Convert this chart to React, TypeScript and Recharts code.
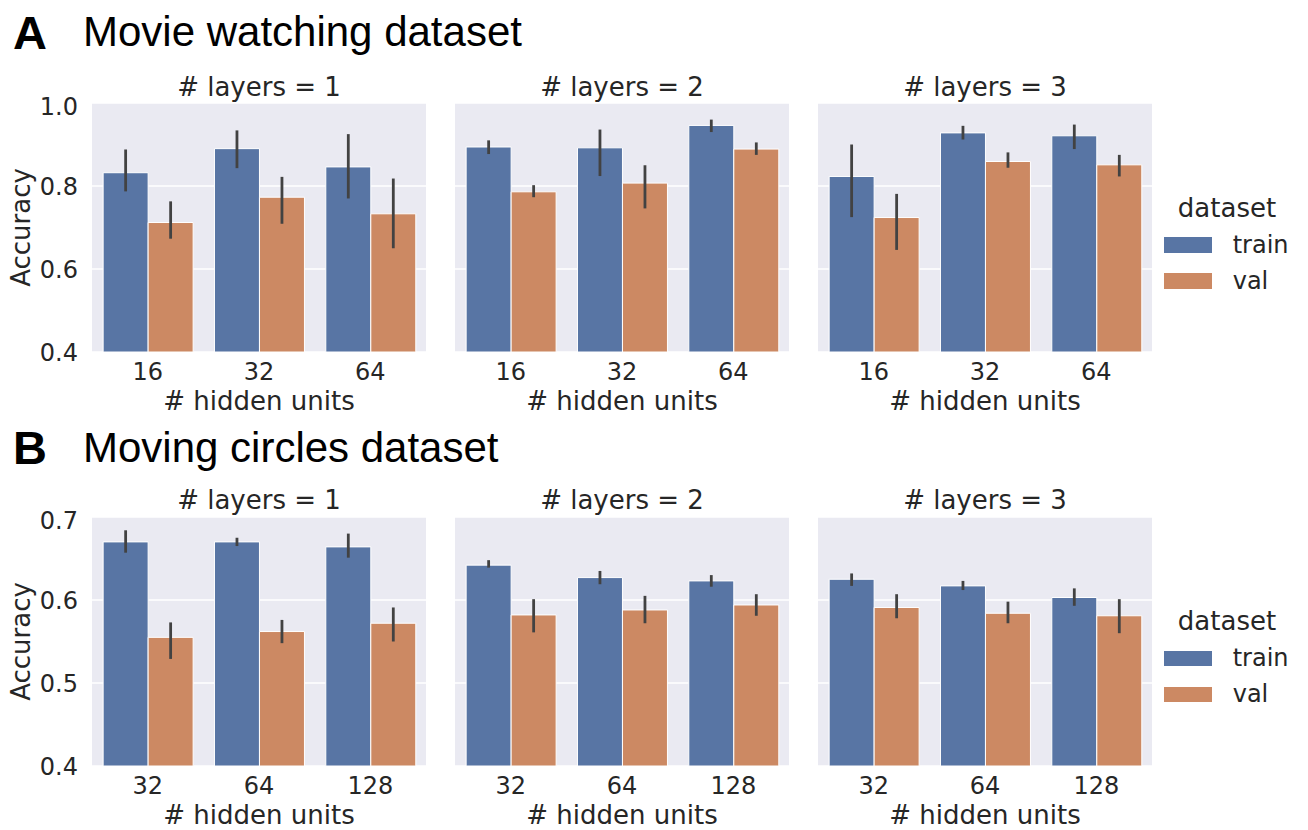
import React from "react";
import { Bar, BarChart, CartesianGrid, ErrorBar, Legend, XAxis, YAxis } from "recharts";

const movieUnits = ["16", "32", "64"];
const circleUnits = ["32", "64", "128"];
const layerTitles = ["# layers = 1", "# layers = 2", "# layers = 3"];

// one row per panel (# layers = 1, 2, 3), one entry per hidden-unit size
const movieTrain = [[0.832, 0.89, 0.846], [0.894, 0.892, 0.946], [0.823, 0.928, 0.921]];
const movieTrainLo = [[0.787, 0.843, 0.77], [0.877, 0.824, 0.93], [0.725, 0.912, 0.889]];
const movieTrainHi = [[0.888, 0.934, 0.925], [0.91, 0.936, 0.96], [0.9, 0.945, 0.948]];
const movieVal = [[0.712, 0.773, 0.733], [0.786, 0.807, 0.889], [0.724, 0.859, 0.851]];
const movieValLo = [[0.673, 0.709, 0.65], [0.773, 0.746, 0.875], [0.646, 0.844, 0.823]];
const movieValHi = [[0.763, 0.822, 0.818], [0.802, 0.85, 0.905], [0.781, 0.881, 0.875]];

const circleTrain = [[0.67, 0.67, 0.664], [0.642, 0.627, 0.623], [0.625, 0.617, 0.603]];
const circleTrainLo = [[0.657, 0.665, 0.651], [0.639, 0.619, 0.616], [0.617, 0.612, 0.593]];
const circleTrainHi = [[0.684, 0.675, 0.68], [0.648, 0.635, 0.63], [0.632, 0.623, 0.614]];
const circleVal = [[0.555, 0.562, 0.572], [0.582, 0.588, 0.594], [0.591, 0.584, 0.581]];
const circleValLo = [[0.529, 0.548, 0.55], [0.561, 0.572, 0.581], [0.578, 0.572, 0.56]];
const circleValHi = [[0.573, 0.576, 0.591], [0.601, 0.605, 0.607], [0.607, 0.598, 0.601]];

const movieTicks = [0.4, 0.6, 0.8, 1.0];
const circleTicks = [0.4, 0.5, 0.6, 0.7];

const TRAIN = "#5875a4";
const VAL = "#cc8963";
const INK = "#262626";
const FONT = "DejaVu Sans";

const PLOT_W = 334;
const PLOT_H = 249;
const TOP = 10;
const AXIS_H = 64;
const plotLefts = [92, 455, 818];

function AccuracyLabel({ viewBox }: any) {
  const cy = viewBox.y + viewBox.height / 2;
  return (
    <text x={30} y={cy} transform={`rotate(-90, 30, ${cy})`} textAnchor="middle" fontSize={26} fill={INK} fontFamily={FONT}>
      Accuracy
    </text>
  );
}

function UnitsLabel({ viewBox }: any) {
  return (
    <text x={viewBox.x + viewBox.width / 2} y={viewBox.y + 58} textAnchor="middle" fontSize={26} fill={INK} fontFamily={FONT}>
      # hidden units
    </text>
  );
}

const renderLegend = ({ payload }: any) => (
  <div style={{ position: "relative", width: 126, height: 100, fontFamily: FONT, color: INK }}>
    <div style={{ position: "absolute", left: 0, top: 0, width: 126, textAlign: "center", fontSize: 26, lineHeight: "26px" }}>
      dataset
    </div>
    {(payload || []).map((p: any, i: number) => (
      <React.Fragment key={p.value}>
        <div style={{ position: "absolute", left: 0, top: 42.6 + i * 36, width: 48, height: 15.5, background: p.color }} />
        <div style={{ position: "absolute", left: 68.7, top: 38.3 + i * 36, fontSize: 24, lineHeight: "24px", whiteSpace: "nowrap" }}>
          {p.value}
        </div>
      </React.Fragment>
    ))}
  </div>
);

interface PanelProps {
  col: number;
  plotTop: number;
  units: string[];
  train: number[];
  trainLo: number[];
  trainHi: number[];
  val: number[];
  valLo: number[];
  valHi: number[];
  ticks: number[];
}

function Panel({ col, plotTop, units, train, trainLo, trainHi, val, valLo, valHi, ticks }: PanelProps) {
  const data = units.map((u, i) => ({
    units: u,
    train: train[i],
    val: val[i],
    trainErr: [train[i] - trainLo[i], trainHi[i] - train[i]],
    valErr: [val[i] - valLo[i], valHi[i] - val[i]],
  }));
  const yW = col === 0 ? 92 : 0;
  const marginLeft = col === 0 ? 0 : 10;
  const left = plotLefts[col] - yW - marginLeft;
  const width = col === 2 ? 1308 - left : marginLeft + yW + PLOT_W + 10;
  const top = plotTop - TOP;

  return (
    <>
      <div
        style={{
          position: "absolute",
          left: plotLefts[col],
          width: PLOT_W,
          top: plotTop - 7.5 - 22,
          textAlign: "center",
          fontSize: 26,
          lineHeight: "26px",
          fontFamily: FONT,
          color: INK,
        }}
      >
        {layerTitles[col]}
      </div>
      <div style={{ position: "absolute", left, top }}>
        <BarChart
          width={width}
          height={TOP + PLOT_H + AXIS_H}
          data={data}
          margin={{ top: TOP, right: width - marginLeft - yW - PLOT_W, bottom: 0, left: marginLeft }}
          barCategoryGap="10%"
          barGap={0}
        >
          <CartesianGrid vertical={false} stroke="#ffffff" strokeWidth={1.5} fill="#eaeaf2" />
          <XAxis
            dataKey="units"
            interval={0}
            axisLine={false}
            tickLine={false}
            tickSize={0}
            tickMargin={11}
            height={AXIS_H}
            tick={{ fontSize: 24, fill: INK, fontFamily: FONT }}
            label={<UnitsLabel />}
          />
          <YAxis
            hide={col !== 0}
            width={yW}
            domain={[ticks[0], ticks[ticks.length - 1]]}
            ticks={ticks}
            allowDataOverflow
            axisLine={false}
            tickLine={false}
            tickSize={0}
            tickMargin={14}
            tickFormatter={(v: number) => v.toFixed(1)}
            tick={{ fontSize: 24, fill: INK, fontFamily: FONT }}
            label={col === 0 ? <AccuracyLabel /> : undefined}
          />
          <Bar dataKey="train" name="train" fill={TRAIN} stroke="#ffffff" strokeWidth={1} isAnimationActive={false}>
            <ErrorBar dataKey="trainErr" width={0} stroke="#424242" strokeWidth={2.8} />
          </Bar>
          <Bar dataKey="val" name="val" fill={VAL} stroke="#ffffff" strokeWidth={1} isAnimationActive={false}>
            <ErrorBar dataKey="valErr" width={0} stroke="#424242" strokeWidth={2.8} />
          </Bar>
          {col === 2 && (
            <Legend
              layout="vertical"
              align="center"
              verticalAlign="middle"
              content={renderLegend}
              wrapperStyle={{ position: "absolute", left: 1164 - left, top: 101.4, width: 126, height: 100 }}
            />
          )}
        </BarChart>
      </div>
    </>
  );
}

const heading = (text: string, l: number, t: number, size: number, bold: boolean) => (
  <div
    style={{
      position: "absolute",
      left: l,
      top: t,
      fontFamily: "Liberation Sans",
      fontWeight: bold ? 700 : 400,
      fontSize: size,
      lineHeight: `${size}px`,
      color: "#000",
      whiteSpace: "nowrap",
    }}
  >
    {text}
  </div>
);

export default function App() {
  return (
    <div style={{ position: "absolute", left: 0, top: 0, width: 1308, height: 830, background: "#fff", overflow: "hidden" }}>
      {heading("A", 13, 9.2, 47, true)}
      {heading("Movie watching dataset", 83, 11.4, 42, false)}
      {heading("B", 13, 424.2, 47, true)}
      {heading("Moving circles dataset", 83, 427.4, 42, false)}
      {[0, 1, 2].map((c) => (
        <Panel
          key={`m${c}`}
          col={c}
          plotTop={103.3}
          units={movieUnits}
          train={movieTrain[c]}
          trainLo={movieTrainLo[c]}
          trainHi={movieTrainHi[c]}
          val={movieVal[c]}
          valLo={movieValLo[c]}
          valHi={movieValHi[c]}
          ticks={movieTicks}
        />
      ))}
      {[0, 1, 2].map((c) => (
        <Panel
          key={`c${c}`}
          col={c}
          plotTop={516.7}
          units={circleUnits}
          train={circleTrain[c]}
          trainLo={circleTrainLo[c]}
          trainHi={circleTrainHi[c]}
          val={circleVal[c]}
          valLo={circleValLo[c]}
          valHi={circleValHi[c]}
          ticks={circleTicks}
        />
      ))}
    </div>
  );
}
